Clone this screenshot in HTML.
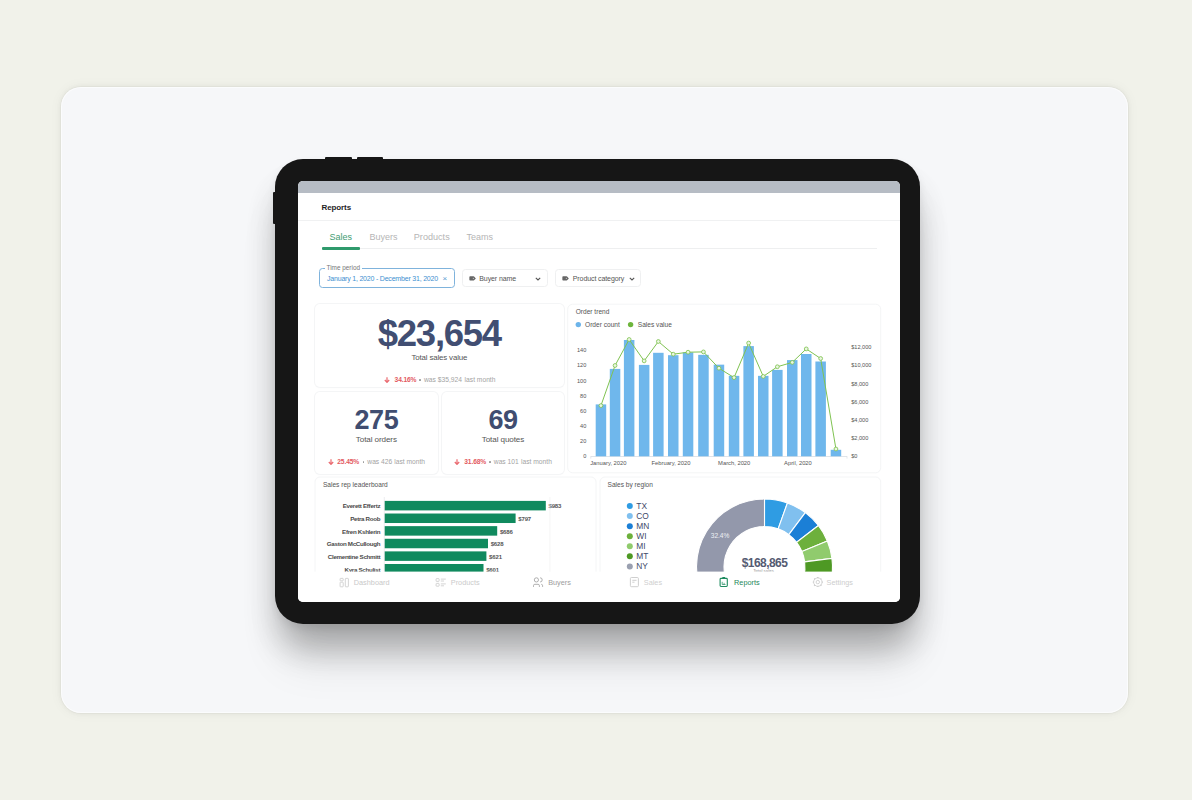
<!DOCTYPE html>
<html><head><meta charset="utf-8">
<style>
*{box-sizing:border-box;margin:0;padding:0}
html,body{width:1192px;height:800px;overflow:hidden;background:#f1f2ea;font-family:"Liberation Sans",Arial,sans-serif}
.a{position:absolute}
#card{left:60.8px;top:87.2px;width:1066.8px;height:625.8px;border-radius:20px;background:#f6f7f9;box-shadow:inset 0 0 0 1px rgba(255,255,255,.6),0 0 0 1px rgba(0,0,0,.025),0 0 4px 1px rgba(0,0,0,.04),0 0 12px 2px rgba(0,0,0,.035)}
#tab{left:275px;top:159px;width:645px;height:465px;border-radius:28px;background:#161616;box-shadow:0 28px 34px -6px rgba(0,0,0,.24),0 45px 45px -8px rgba(0,0,0,.10),0 22px 40px -4px rgba(0,0,0,.06),0 4px 8px rgba(0,0,0,.07)}
.btn{background:#161616;height:3px;top:157px;border-radius:1px}
#screen{left:298px;top:181px;width:602px;height:421px;border-radius:5px;background:#fff;overflow:hidden}
#status{left:0;top:0;width:602px;height:12px;background:#b6bcc4}
.t{white-space:nowrap;line-height:1}
.kcard{background:#fff;border-radius:5px;box-shadow:0 0 0 1px #f4f5f6,0 1px 2px rgba(0,0,0,.025)}
</style></head>
<body>
<div id="card" class="a"></div>
<div id="tab" class="a"></div>
<div class="a btn" style="left:325px;width:27px"></div>
<div class="a btn" style="left:357px;width:26px"></div>
<div class="a" style="left:273px;top:192px;width:3px;height:32px;background:#161616;border-radius:1px"></div>
<div id="screen" class="a">
  <div id="status" class="a"></div>

  <div class="a t" style="left:23.5px;top:23.2px;font-size:8px;font-weight:bold;color:#1f1f1f;letter-spacing:-0.1px">Reports</div>
  <div class="a" style="left:0;top:38.5px;width:602px;height:1px;background:#f0f1f2"></div>
  <div class="a" style="left:23.5px;top:66.5px;width:555px;height:1px;background:#eeeff0"></div>
  <div class="a" style="left:23.5px;top:66.4px;width:38px;height:2.2px;background:#2f9a6c;border-radius:1px"></div>
  <div class="a t" style="left:31.5px;top:51.8px;font-size:9px;color:#3f9d72">Sales</div>
  <div class="a t" style="left:71.5px;top:51.8px;font-size:9px;color:#b5b5b5">Buyers</div>
  <div class="a t" style="left:115.8px;top:51.8px;font-size:9.1px;color:#b5b5b5">Products</div>
  <div class="a t" style="left:168.5px;top:51.8px;font-size:9px;color:#b5b5b5">Teams</div>
  <!-- filters -->
  <div class="a" style="left:21px;top:87.4px;width:136px;height:19.2px;border:1px solid #7fb3dc;border-radius:3.5px"></div>
  <div class="a t" style="left:26.5px;top:84.2px;padding:0 2px;background:#fff;font-size:6.4px;color:#777">Time period</div>
  <div class="a t" style="left:29px;top:93.8px;font-size:7px;color:#3e8fd0;letter-spacing:-0.2px">January 1, 2020 - December 31, 2020</div>
  <div class="a t" style="left:144.5px;top:93.5px;font-size:8px;color:#5a9ad0">&#215;</div>
  <div class="a" style="left:163.7px;top:88px;width:86px;height:18.3px;border:1px solid #eff0f1;border-radius:3.5px"></div>
  <div class="a" style="left:257px;top:88px;width:86px;height:18.3px;border:1px solid #eff0f1;border-radius:3.5px"></div>
  <svg class="a" style="left:170.5px;top:94.5px" width="7" height="5" viewBox="0 0 7 5.1"><path d="M1.1 0.3h3.3q0.4 0 0.7 0.3l1.6 1.6q0.3 0.3 0 0.6l-1.6 1.6q-0.3 0.3-0.7 0.3h-3.3q-0.8 0-0.8-0.8v-2.8q0-0.8 0.8-0.8z" fill="#666"/><circle cx="4.4" cy="2.5" r="0.65" fill="#bbb"/></svg>
  <div class="a t" style="left:181.3px;top:94px;font-size:7px;color:#555;letter-spacing:-0.1px">Buyer name</div>
  <svg class="a" style="left:237px;top:95.5px" width="6" height="4" viewBox="0 0 6 4"><path d="M0.8 0.8L3 3 5.2 0.8" fill="none" stroke="#555" stroke-width="1.1"/></svg>
  <svg class="a" style="left:264px;top:94.5px" width="7" height="5" viewBox="0 0 7 5.1"><path d="M1.1 0.3h3.3q0.4 0 0.7 0.3l1.6 1.6q0.3 0.3 0 0.6l-1.6 1.6q-0.3 0.3-0.7 0.3h-3.3q-0.8 0-0.8-0.8v-2.8q0-0.8 0.8-0.8z" fill="#666"/><circle cx="4.4" cy="2.5" r="0.65" fill="#bbb"/></svg>
  <div class="a t" style="left:274.8px;top:94px;font-size:7px;color:#555;letter-spacing:-0.1px">Product category</div>
  <svg class="a" style="left:330.5px;top:95.5px" width="6" height="4" viewBox="0 0 6 4"><path d="M0.8 0.8L3 3 5.2 0.8" fill="none" stroke="#555" stroke-width="1.1"/></svg>

  <!-- KPI cards -->
  <div class="a kcard" style="left:16.7px;top:123px;width:249.3px;height:83px"></div>
  <div class="a kcard" style="left:16.7px;top:210.6px;width:123.3px;height:82px"></div>
  <div class="a kcard" style="left:144px;top:210.6px;width:122px;height:82px"></div>
  <div class="a t" style="left:16.7px;top:134.6px;width:249.3px;text-align:center;font-size:36.5px;font-weight:bold;color:#414e72;letter-spacing:-1.25px">$23,654</div>
  <div class="a t" style="left:16.7px;top:172.6px;width:249.3px;text-align:center;font-size:7.9px;color:#555;letter-spacing:-0.15px">Total sales value</div>
  <div class="a t" style="left:16.7px;top:225.8px;width:123.3px;text-align:center;font-size:27px;font-weight:bold;color:#404d70;letter-spacing:-0.4px">275</div>
  <div class="a t" style="left:16.7px;top:255px;width:123.3px;text-align:center;font-size:8.1px;color:#555;letter-spacing:-0.1px">Total orders</div>
  <div class="a t" style="left:144px;top:225.8px;width:122px;text-align:center;font-size:27px;font-weight:bold;color:#404d70;letter-spacing:-0.4px">69</div>
  <div class="a t" style="left:144px;top:255px;width:122px;text-align:center;font-size:8.1px;color:#555;letter-spacing:-0.1px">Total quotes</div>
  <svg class="a" style="left:86.0px;top:196.30px" width="6" height="6.2" viewBox="0 0 6 6.2"><path d="M3 0.3v5M0.8 3l2.2 2.4L5.2 3" fill="none" stroke="#ea6a70" stroke-width="1.2"/></svg>
  <div class="a t" style="left:96.6px;top:196.14px;font-size:6.7px;color:#e35a61;font-weight:bold;letter-spacing:-0.15px">34.16%</div>
  <div class="a" style="left:121.4px;top:198.40px;width:1.7px;height:1.7px;border-radius:50%;background:#9a9a9a"></div>
  <div class="a t" style="left:126.0px;top:196.14px;font-size:6.7px;color:#a3a3a3">was $35,924</div>
  <div class="a t" style="left:166.6px;top:196.14px;font-size:6.7px;color:#a3a3a3">last month</div>
  <svg class="a" style="left:29.9px;top:277.90px" width="6" height="6.2" viewBox="0 0 6 6.2"><path d="M3 0.3v5M0.8 3l2.2 2.4L5.2 3" fill="none" stroke="#ea6a70" stroke-width="1.2"/></svg>
  <div class="a t" style="left:39.3px;top:277.74px;font-size:6.7px;color:#e35a61;font-weight:bold;letter-spacing:-0.15px">25.45%</div>
  <div class="a" style="left:64.7px;top:280.00px;width:1.7px;height:1.7px;border-radius:50%;background:#9a9a9a"></div>
  <div class="a t" style="left:69.3px;top:277.74px;font-size:6.7px;color:#a3a3a3">was 426</div>
  <div class="a t" style="left:96.2px;top:277.74px;font-size:6.7px;color:#a3a3a3">last month</div>
  <svg class="a" style="left:156.2px;top:277.90px" width="6" height="6.2" viewBox="0 0 6 6.2"><path d="M3 0.3v5M0.8 3l2.2 2.4L5.2 3" fill="none" stroke="#ea6a70" stroke-width="1.2"/></svg>
  <div class="a t" style="left:166.3px;top:277.74px;font-size:6.7px;color:#e35a61;font-weight:bold;letter-spacing:-0.15px">31.68%</div>
  <div class="a" style="left:190.9px;top:280.00px;width:1.7px;height:1.7px;border-radius:50%;background:#9a9a9a"></div>
  <div class="a t" style="left:195.8px;top:277.74px;font-size:6.7px;color:#a3a3a3">was 101</div>
  <div class="a t" style="left:223.0px;top:277.74px;font-size:6.7px;color:#a3a3a3">last month</div>
  <svg class="a" style="left:0;top:0" width="602" height="421" viewBox="298 181 602 421" font-family="Liberation Sans, Arial, sans-serif">
  <rect x="567.7" y="304.2" width="313" height="168.6" rx="5" fill="#fff" stroke="#f4f5f6" stroke-width="1"/>
  <text x="575.7" y="314.4" font-size="6.6" fill="#555">Order trend</text>
  <circle cx="578.3" cy="324.6" r="2.7" fill="#6cb4ea"/>
  <text x="585" y="327" font-size="6.6" fill="#555">Order count</text>
  <circle cx="630.6" cy="324.6" r="2.7" fill="#6db53c"/>
  <text x="637.8" y="327" font-size="6.6" fill="#555">Sales value</text>
  <line x1="590.6" y1="456.5" x2="847.2" y2="456.5" stroke="#d8dde3" stroke-width="0.8"/>
  <line x1="847" y1="456.5" x2="847" y2="458.6" stroke="#d8dde3" stroke-width="0.7"/>
  <line x1="590.8" y1="456.5" x2="590.8" y2="458.6" stroke="#d8dde3" stroke-width="0.7"/>
  <rect x="595.7" y="404.4" width="10.5" height="51.90" fill="#6fb7ec"/>
  <rect x="609.8" y="368.9" width="10.5" height="87.40" fill="#6fb7ec"/>
  <rect x="623.9" y="340" width="10.5" height="116.30" fill="#6fb7ec"/>
  <rect x="638.9" y="364.9" width="10.5" height="91.40" fill="#6fb7ec"/>
  <rect x="653.1" y="352.8" width="10.5" height="103.50" fill="#6fb7ec"/>
  <rect x="668.0" y="355.2" width="10.5" height="101.10" fill="#6fb7ec"/>
  <rect x="682.8" y="352.4" width="10.5" height="103.90" fill="#6fb7ec"/>
  <rect x="698.2" y="354.85" width="10.5" height="101.45" fill="#6fb7ec"/>
  <rect x="713.7" y="364.65" width="10.5" height="91.65" fill="#6fb7ec"/>
  <rect x="728.8" y="375.85" width="10.5" height="80.45" fill="#6fb7ec"/>
  <rect x="743.4" y="346.1" width="10.5" height="110.20" fill="#6fb7ec"/>
  <rect x="758.0" y="375.85" width="10.5" height="80.45" fill="#6fb7ec"/>
  <rect x="772.1" y="369.9" width="10.5" height="86.40" fill="#6fb7ec"/>
  <rect x="787.0" y="360.1" width="10.5" height="96.20" fill="#6fb7ec"/>
  <rect x="801.0" y="354" width="10.5" height="102.30" fill="#6fb7ec"/>
  <rect x="815.4" y="361.5" width="10.5" height="94.80" fill="#6fb7ec"/>
  <rect x="830.7" y="449.8" width="10.5" height="6.50" fill="#6fb7ec"/>
  <polyline points="600.95,405.6 615.05,365.5 629.15,339.5 644.15,360.9 658.35,341.5 673.25,354.2 688.05,352.2 703.45,351.9 718.95,368.2 734.05,377.6 748.65,343.1 763.25,376.4 777.35,366.75 792.25,362.4 806.25,348.9 820.65,358.5 835.95,449" fill="none" stroke="#80c352" stroke-width="1"/>
  <circle cx="600.95" cy="405.6" r="1.9" fill="#eaf6e0" stroke="#80c352" stroke-width="0.85"/>
  <circle cx="615.05" cy="365.5" r="1.9" fill="#eaf6e0" stroke="#80c352" stroke-width="0.85"/>
  <circle cx="629.15" cy="339.5" r="1.9" fill="#eaf6e0" stroke="#80c352" stroke-width="0.85"/>
  <circle cx="644.15" cy="360.9" r="1.9" fill="#eaf6e0" stroke="#80c352" stroke-width="0.85"/>
  <circle cx="658.35" cy="341.5" r="1.9" fill="#eaf6e0" stroke="#80c352" stroke-width="0.85"/>
  <circle cx="673.25" cy="354.2" r="1.9" fill="#eaf6e0" stroke="#80c352" stroke-width="0.85"/>
  <circle cx="688.05" cy="352.2" r="1.9" fill="#eaf6e0" stroke="#80c352" stroke-width="0.85"/>
  <circle cx="703.45" cy="351.9" r="1.9" fill="#eaf6e0" stroke="#80c352" stroke-width="0.85"/>
  <circle cx="718.95" cy="368.2" r="1.9" fill="#eaf6e0" stroke="#80c352" stroke-width="0.85"/>
  <circle cx="734.05" cy="377.6" r="1.9" fill="#eaf6e0" stroke="#80c352" stroke-width="0.85"/>
  <circle cx="748.65" cy="343.1" r="1.9" fill="#eaf6e0" stroke="#80c352" stroke-width="0.85"/>
  <circle cx="763.25" cy="376.4" r="1.9" fill="#eaf6e0" stroke="#80c352" stroke-width="0.85"/>
  <circle cx="777.35" cy="366.75" r="1.9" fill="#eaf6e0" stroke="#80c352" stroke-width="0.85"/>
  <circle cx="792.25" cy="362.4" r="1.9" fill="#eaf6e0" stroke="#80c352" stroke-width="0.85"/>
  <circle cx="806.25" cy="348.9" r="1.9" fill="#eaf6e0" stroke="#80c352" stroke-width="0.85"/>
  <circle cx="820.65" cy="358.5" r="1.9" fill="#eaf6e0" stroke="#80c352" stroke-width="0.85"/>
  <circle cx="835.95" cy="449" r="1.9" fill="#eaf6e0" stroke="#80c352" stroke-width="0.85"/>
  <text x="586.3" y="458.0" font-size="5.6" fill="#555" text-anchor="end">0</text>
  <text x="586.3" y="442.9" font-size="5.6" fill="#555" text-anchor="end">20</text>
  <text x="586.3" y="427.8" font-size="5.6" fill="#555" text-anchor="end">40</text>
  <text x="586.3" y="412.7" font-size="5.6" fill="#555" text-anchor="end">60</text>
  <text x="586.3" y="397.6" font-size="5.6" fill="#555" text-anchor="end">80</text>
  <text x="586.3" y="382.5" font-size="5.6" fill="#555" text-anchor="end">100</text>
  <text x="586.3" y="367.4" font-size="5.6" fill="#555" text-anchor="end">120</text>
  <text x="586.3" y="352.3" font-size="5.6" fill="#555" text-anchor="end">140</text>
  <text x="851.2" y="458.4" font-size="5.6" fill="#555">$0</text>
  <text x="851.2" y="440.2" font-size="5.6" fill="#555">$2,000</text>
  <text x="851.2" y="422.0" font-size="5.6" fill="#555">$4,000</text>
  <text x="851.2" y="403.8" font-size="5.6" fill="#555">$6,000</text>
  <text x="851.2" y="385.6" font-size="5.6" fill="#555">$8,000</text>
  <text x="851.2" y="367.4" font-size="5.6" fill="#555">$10,000</text>
  <text x="851.2" y="349.2" font-size="5.6" fill="#555">$12,000</text>
  <text x="590.2" y="465.2" font-size="5.8" fill="#555">January, 2020</text>
  <text x="651.5" y="465.2" font-size="5.8" fill="#555">February, 2020</text>
  <text x="718.1" y="465.2" font-size="5.8" fill="#555">March, 2020</text>
  <text x="784.1" y="465.2" font-size="5.8" fill="#555">April, 2020</text>
  <rect x="315" y="477" width="281" height="120" rx="5" fill="#fff" stroke="#f4f5f6" stroke-width="1"/>
  <rect x="600" y="477" width="280.7" height="120" rx="5" fill="#fff" stroke="#f4f5f6" stroke-width="1"/>
  <text x="322.9" y="487.4" font-size="6.6" fill="#555">Sales rep leaderboard</text>
  <rect x="384.4" y="500.90" width="161.40" height="9.5" fill="#108a5e"/>
  <text x="380.2" y="508.40" font-size="6.2" fill="#4a4a4a" text-anchor="end" font-weight="bold" letter-spacing="-0.3">Everett Effertz</text>
  <text x="548.50" y="508.40" font-size="6" fill="#555" font-weight="bold" letter-spacing="-0.15">$983</text>
  <rect x="384.4" y="513.52" width="131.20" height="9.5" fill="#108a5e"/>
  <text x="380.2" y="521.02" font-size="6.2" fill="#4a4a4a" text-anchor="end" font-weight="bold" letter-spacing="-0.3">Petra Roob</text>
  <text x="518.30" y="521.02" font-size="6" fill="#555" font-weight="bold" letter-spacing="-0.15">$797</text>
  <rect x="384.4" y="526.14" width="112.80" height="9.5" fill="#108a5e"/>
  <text x="380.2" y="533.64" font-size="6.2" fill="#4a4a4a" text-anchor="end" font-weight="bold" letter-spacing="-0.3">Efren Kshlerin</text>
  <text x="499.90" y="533.64" font-size="6" fill="#555" font-weight="bold" letter-spacing="-0.15">$686</text>
  <rect x="384.4" y="538.76" width="103.60" height="9.5" fill="#108a5e"/>
  <text x="380.2" y="546.26" font-size="6.2" fill="#4a4a4a" text-anchor="end" font-weight="bold" letter-spacing="-0.3">Gaston McCullough</text>
  <text x="490.70" y="546.26" font-size="6" fill="#555" font-weight="bold" letter-spacing="-0.15">$628</text>
  <rect x="384.4" y="551.38" width="102.00" height="9.5" fill="#108a5e"/>
  <text x="380.2" y="558.88" font-size="6.2" fill="#4a4a4a" text-anchor="end" font-weight="bold" letter-spacing="-0.3">Clementine Schmitt</text>
  <text x="489.10" y="558.88" font-size="6" fill="#555" font-weight="bold" letter-spacing="-0.15">$621</text>
  <rect x="384.4" y="564.00" width="99.10" height="9.5" fill="#108a5e"/>
  <text x="380.2" y="571.50" font-size="6.2" fill="#4a4a4a" text-anchor="end" font-weight="bold" letter-spacing="-0.3">Kyra Schulist</text>
  <text x="486.20" y="571.50" font-size="6" fill="#555" font-weight="bold" letter-spacing="-0.15">$601</text>
  <line x1="549.9" y1="497" x2="549.9" y2="575" stroke="#f2f2f2" stroke-width="0.7"/>
  <line x1="384.3" y1="497" x2="384.3" y2="575" stroke="#e4e6ea" stroke-width="0.7"/>
  <text x="607.5" y="487.4" font-size="6.6" fill="#555">Sales by region</text>
  <circle cx="629.8" cy="506.00" r="3" fill="#2f9ce3"/>
  <text x="636.3" y="509.00" font-size="8.4" fill="#3f4a6a">TX</text>
  <circle cx="629.8" cy="516.07" r="3" fill="#80c0ef"/>
  <text x="636.3" y="519.07" font-size="8.4" fill="#3f4a6a">CO</text>
  <circle cx="629.8" cy="526.14" r="3" fill="#1b7fd6"/>
  <text x="636.3" y="529.14" font-size="8.4" fill="#3f4a6a">MN</text>
  <circle cx="629.8" cy="536.21" r="3" fill="#6db03c"/>
  <text x="636.3" y="539.21" font-size="8.4" fill="#3f4a6a">WI</text>
  <circle cx="629.8" cy="546.28" r="3" fill="#90cb6d"/>
  <text x="636.3" y="549.28" font-size="8.4" fill="#3f4a6a">MI</text>
  <circle cx="629.8" cy="556.35" r="3" fill="#4e9924"/>
  <text x="636.3" y="559.35" font-size="8.4" fill="#3f4a6a">MT</text>
  <circle cx="629.8" cy="566.42" r="3" fill="#9aa0b0"/>
  <text x="636.3" y="569.42" font-size="8.4" fill="#3f4a6a">NY</text>
  <path d="M764.50,499.00 A68,68 0 0 1 787.42,502.98 L778.15,528.87 A40.5,40.5 0 0 0 764.50,526.50 Z" fill="#2f9ce3" stroke="#fff" stroke-width="1.1" stroke-linejoin="miter"/>
  <path d="M787.42,502.98 A68,68 0 0 1 805.33,512.62 L788.82,534.61 A40.5,40.5 0 0 0 778.15,528.87 Z" fill="#80c0ef" stroke="#fff" stroke-width="1.1" stroke-linejoin="miter"/>
  <path d="M805.33,512.62 A68,68 0 0 1 818.38,525.51 L796.59,542.29 A40.5,40.5 0 0 0 788.82,534.61 Z" fill="#1b7fd6" stroke="#fff" stroke-width="1.1" stroke-linejoin="miter"/>
  <path d="M818.38,525.51 A68,68 0 0 1 827.32,540.98 L801.92,551.50 A40.5,40.5 0 0 0 796.59,542.29 Z" fill="#6db03c" stroke="#fff" stroke-width="1.1" stroke-linejoin="miter"/>
  <path d="M827.32,540.98 A68,68 0 0 1 831.95,558.36 L804.67,561.85 A40.5,40.5 0 0 0 801.92,551.50 Z" fill="#90cb6d" stroke="#fff" stroke-width="1.1" stroke-linejoin="miter"/>
  <path d="M831.95,558.36 A68,68 0 0 1 830.18,584.60 L803.62,577.48 A40.5,40.5 0 0 0 804.67,561.85 Z" fill="#4e9924" stroke="#fff" stroke-width="1.1" stroke-linejoin="miter"/>
  <path d="M830.18,584.60 A68,68 0 0 1 703.70,597.45 L728.29,585.13 A40.5,40.5 0 0 0 803.62,577.48 Z" fill="#c9ccd6" stroke="#fff" stroke-width="1.1" stroke-linejoin="miter"/>
  <path d="M703.70,597.45 A68,68 0 0 1 764.50,499.00 L764.50,526.50 A40.5,40.5 0 0 0 728.29,585.13 Z" fill="#9398ab" stroke="#fff" stroke-width="1.1" stroke-linejoin="miter"/>
  <text x="710.8" y="537.9" font-size="6.6" fill="#eef0f5" letter-spacing="-0.05">32.4%</text>
  <text x="764.5" y="566.9" font-size="12" fill="#555b72" font-weight="bold" text-anchor="middle" letter-spacing="-0.55">$168,865</text>
  <text x="763.5" y="572.3" font-size="4.4" fill="#8a8a8a" text-anchor="middle">Total sales</text>
    
  
  <rect x="298" y="571.6" width="602" height="31" fill="#fff"/>
  <g fill="none" stroke="#c9c9c9" stroke-width="0.8"><rect x="340.1" y="578.4" width="3.1" height="2.4" rx="0.5"/><rect x="340.1" y="582.2" width="3.1" height="4.6" rx="0.5"/><rect x="345.3" y="578.4" width="3.1" height="8.4" rx="0.6"/></g>
  <g fill="none" stroke="#c9c9c9" stroke-width="0.8"><rect x="436.1" y="578.6" width="3" height="2.8" rx="0.5"/><rect x="436.1" y="583.4" width="3" height="2.8" rx="0.5"/><path d="M440.8 579.1h5M440.8 581h3.2M440.8 583.9h5M440.8 585.8h3.2"/></g>
  <g fill="none" stroke="#a0a0a0" stroke-width="0.85"><circle cx="536.4" cy="579.9" r="2.1"/><path d="M540.1 577.8a2.1 2.1 0 0 1 0 4.2"/><path d="M533.5 586.9v-1.3q0-1.3 1.3-1.3h3.3q1.3 0 1.3 1.3v1.3"/><path d="M541.3 584.3q1.3 0.1 1.3 1.4v1.2"/></g>
  <g fill="none" stroke="#c9c9c9" stroke-width="0.9"><rect x="630.4" y="577.5" width="8" height="9.2" rx="1"/><path d="M632.3 580.3h4.2M632.3 582.2h2.2"/></g>
  <g fill="none" stroke="#1e8b5f" stroke-width="1.1"><rect x="720.1" y="578.4" width="7.2" height="8.1" rx="0.9"/><path d="M722.4 586.4v0" /></g><rect x="722.3" y="576.9" width="2.9" height="2.2" rx="0.4" fill="#1e8b5f"/><path d="M722.2 581.8v2.7h3.3M724.1 582.8v1.7" fill="none" stroke="#1e8b5f" stroke-width="0.7"/>
  <g fill="none" stroke="#c9c9c9" stroke-width="0.8"><circle cx="817.8" cy="582.1" r="4.2"/><circle cx="817.8" cy="582.1" r="1.7"/></g>
  <line x1="822.00" y1="582.10" x2="822.80" y2="582.10" stroke="#c9c9c9" stroke-width="1.4"/>
  <line x1="820.77" y1="585.07" x2="821.34" y2="585.64" stroke="#c9c9c9" stroke-width="1.4"/>
  <line x1="817.80" y1="586.30" x2="817.80" y2="587.10" stroke="#c9c9c9" stroke-width="1.4"/>
  <line x1="814.83" y1="585.07" x2="814.26" y2="585.64" stroke="#c9c9c9" stroke-width="1.4"/>
  <line x1="813.60" y1="582.10" x2="812.80" y2="582.10" stroke="#c9c9c9" stroke-width="1.4"/>
  <line x1="814.83" y1="579.13" x2="814.26" y2="578.56" stroke="#c9c9c9" stroke-width="1.4"/>
  <line x1="817.80" y1="577.90" x2="817.80" y2="577.10" stroke="#c9c9c9" stroke-width="1.4"/>
  <line x1="820.77" y1="579.13" x2="821.34" y2="578.56" stroke="#c9c9c9" stroke-width="1.4"/>
  <text x="353.8" y="585" font-size="7.3" fill="#c9c9c9">Dashboard</text>
  <text x="450.8" y="585" font-size="7.3" fill="#cbcbcb">Products</text>
  <text x="548.2" y="585" font-size="7.3" fill="#9d9d9d">Buyers</text>
  <text x="643.8" y="585" font-size="7.3" fill="#cfcfcf">Sales</text>
  <text x="734.1" y="585" font-size="7.3" fill="#1d8759">Reports</text>
  <text x="826.6" y="585" font-size="7.3" fill="#cdcdcd">Settings</text>

  </svg>
  <!-- SCREEN CONTENT -->
</div>
</body></html>
